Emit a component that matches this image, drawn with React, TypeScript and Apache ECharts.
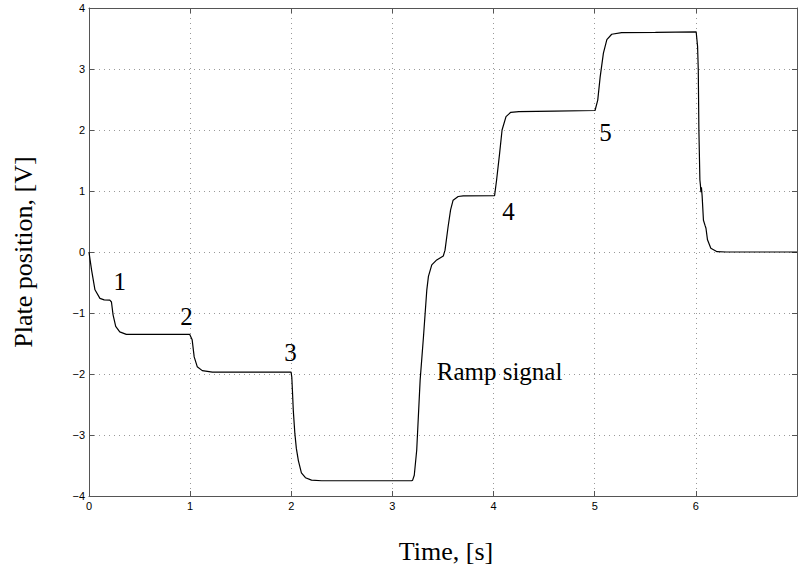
import React, { useEffect, useRef } from "react";
import * as echarts from "echarts";

// Time [s]
const timeS: number[] = [
  0, 0.01, 0.026, 0.059, 0.108, 0.15, 0.206, 0.222, 0.238, 0.264, 0.304, 0.369, 0.5,
  0.995, 1.02, 1.04, 1.07, 1.12, 1.22, 1.5,
  1.998, 2.005, 2.012, 2.02, 2.035, 2.05, 2.07, 2.1, 2.14, 2.2, 2.3, 2.6,
  3.19, 3.2, 3.216, 3.24, 3.274, 3.307, 3.34, 3.356, 3.389, 3.438, 3.503, 3.52, 3.55, 3.575, 3.6, 3.65, 3.7,
  4.01, 4.03, 4.06, 4.084, 4.123, 4.17, 4.25, 4.6,
  5.003, 5.03, 5.054, 5.086, 5.12, 5.168, 5.266, 5.6, 5.8,
  6.003, 6.017, 6.024, 6.03, 6.04, 6.045, 6.05, 6.055, 6.062, 6.075, 6.09, 6.1, 6.115, 6.148, 6.21, 6.3, 6.6, 7.0,
];
// Plate position [V]
const plateV: number[] = [
  0, -0.12, -0.3, -0.62, -0.76, -0.785, -0.79, -0.82, -1.03, -1.22, -1.31, -1.35, -1.35,
  -1.35, -1.44, -1.72, -1.88, -1.945, -1.97, -1.97,
  -1.97, -2.05, -2.3, -2.6, -2.97, -3.22, -3.42, -3.62, -3.7, -3.74, -3.75, -3.75,
  -3.75, -3.74, -3.66, -3.25, -2.1, -1.39, -0.62, -0.4, -0.21, -0.13, -0.065, 0.03, 0.41, 0.69, 0.85, 0.91, 0.92,
  0.925, 1.18, 1.62, 2.0, 2.22, 2.29, 2.3, 2.31,
  2.32, 2.49, 2.87, 3.26, 3.48, 3.57, 3.595, 3.6, 3.605,
  3.61, 3.37, 2.98, 2.0, 1.18, 1.1, 0.98, 1.06, 0.92, 0.52, 0.44, 0.39, 0.2, 0.06, 0.005, 0, 0, 0,
];

// Annotations
const annotText: string[] = ["1", "2", "3", "4", "5"];
const annotT: number[] = [0.304, 0.963, 1.993, 4.148, 5.106];
const annotV: number[] = [-0.49, -1.054, -1.645, 0.667, 1.959];
const rampText = "Ramp signal";
const rampT = 3.438;
const rampV = -1.96;

const xTicks: number[] = [0, 1, 2, 3, 4, 5, 6];
const yTicks: number[] = [-4, -3, -2, -1, 0, 1, 2, 3, 4];

const xTitle = "Time, [s]";
const yTitle = "Plate position, [V]";

const SERIF = "'Liberation Serif', 'DejaVu Serif', serif";
const SANS = "'Liberation Sans', Arial, sans-serif";
const AXIS_COLOR = "#555";

export default function App() {
  const ref = useRef<HTMLDivElement>(null);

  useEffect(() => {
    if (!ref.current) return;
    const chart = echarts.init(ref.current, undefined, { renderer: "svg" });
    const line = timeS.map((t, i) => [t, plateV[i]]);
    const fmtY = (v: number) =>
      yTicks.includes(v) ? String(v).replace("-", "\u2212") : "";
    const fmtX = (v: number) => (xTicks.includes(v) ? String(v) : "");
    const annData: any[] = annotText.map((s, i) => ({
      value: [annotT[i], annotV[i]],
      label: { formatter: s, align: "center" },
    }));
    annData.push({
      value: [rampT, rampV],
      label: { formatter: rampText, align: "left" },
    });

    const tickStyle = {
      show: true,
      inside: true,
      length: 5,
      lineStyle: { color: AXIS_COLOR, width: 1 },
    };
    const axisLine = { show: true, onZero: false, lineStyle: { color: AXIS_COLOR, width: 1 } };

    chart.setOption({
      animation: false,
      backgroundColor: "#fff",
      grid: { left: 89, top: 8, width: 714.7, height: 488, containLabel: false },
      xAxis: [
        {
          type: "value",
          min: 0,
          max: 7,
          interval: 1,
          position: "bottom",
          axisLine,
          axisTick: tickStyle,
          axisLabel: {
            formatter: fmtX,
            color: "#000",
            fontFamily: SANS,
            fontSize: 11,
            margin: 4,
          },
          splitLine: {
            show: true,
            lineStyle: { color: "#999", type: [1, 4], width: 1 },
          },
        },
        {
          type: "value",
          min: 0,
          max: 7,
          interval: 1,
          position: "top",
          axisLine,
          axisTick: tickStyle,
          axisLabel: { show: false },
          splitLine: { show: false },
        },
      ],
      yAxis: [
        {
          type: "value",
          min: -4,
          max: 4,
          interval: 1,
          position: "left",
          axisLine,
          axisTick: tickStyle,
          axisLabel: {
            formatter: fmtY,
            color: "#000",
            fontFamily: SANS,
            fontSize: 11,
            margin: 4,
          },
          splitLine: {
            show: true,
            lineStyle: { color: "#999", type: [1, 4], width: 1 },
          },
        },
        {
          type: "value",
          min: -4,
          max: 4,
          interval: 1,
          position: "right",
          axisLine,
          axisTick: tickStyle,
          axisLabel: { show: false },
          splitLine: { show: false },
        },
      ],
      series: [
        {
          type: "line",
          xAxisIndex: 0,
          yAxisIndex: 0,
          data: line,
          showSymbol: false,
          symbol: "none",
          smooth: false,
          lineStyle: { color: "#000", width: 1.2 },
          z: 5,
        },
        {
          type: "scatter",
          xAxisIndex: 0,
          yAxisIndex: 0,
          data: annData,
          symbolSize: 0,
          itemStyle: { color: "#000", opacity: 1 },
          label: {
            show: true,
            position: "inside",
            color: "#000",
            opacity: 1,
            textBorderWidth: 0,
            fontFamily: SERIF,
            fontSize: 25,
            verticalAlign: "middle",
          },
          emphasis: { disabled: true },
          z: 6,
        },
      ],
      graphic: [
        {
          type: "text",
          x: 446,
          y: 551,
          style: {
            text: xTitle,
            fill: "#000",
            font: `26px ${SERIF}`,
            textAlign: "center",
            textVerticalAlign: "middle",
          },
        },
        {
          type: "text",
          x: 23,
          y: 252,
          rotation: Math.PI / 2,
          style: {
            text: yTitle,
            fill: "#000",
            font: `26px ${SERIF}`,
            textAlign: "center",
            textVerticalAlign: "middle",
          },
        },
      ],
    });
    return () => chart.dispose();
  }, []);

  return (
    <div
      ref={ref}
      style={{ position: "absolute", left: 0, top: 0, width: 800, height: 564, overflow: "hidden" }}
    />
  );
}
